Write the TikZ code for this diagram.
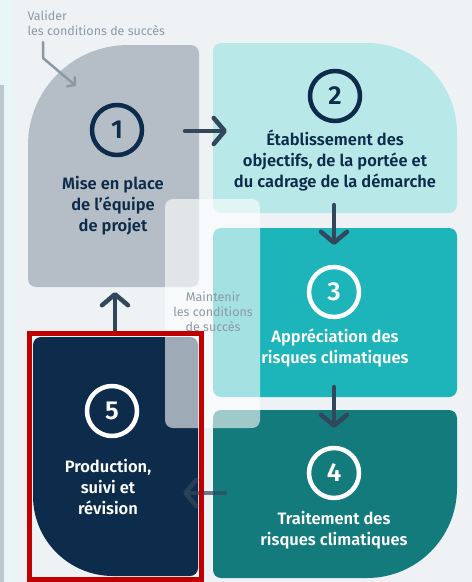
\documentclass[tikz,border=0pt]{standalone}
\usepackage{fontspec}
\setmainfont{Fira Sans}[BoldFont={Fira Sans SemiBold}]
\usepackage{tikz}
\usetikzlibrary{arrows.meta}

\definecolor{bgc}{HTML}{EEF2F5}
\definecolor{stripc}{HTML}{E8F6F8}
\definecolor{barc}{HTML}{B9C7CE}
\definecolor{grisc}{HTML}{B5BEC6}
\definecolor{cyanc}{HTML}{B8E8E8}
\definecolor{tealc}{HTML}{1DB5B9}
\definecolor{petrolc}{HTML}{137B7C}
\definecolor{navyc}{HTML}{0D2B4A}
\definecolor{arrowc}{HTML}{33475C}
\definecolor{labelc}{HTML}{8C99A4}
\definecolor{redc}{HTML}{C00000}

\tikzset{
	stepnum/.style={circle, draw, line width=4.5pt, minimum size=50pt, inner sep=0pt,
		font=\fontsize{26}{26}\selectfont\bfseries},
	steptext/.style={align=center, font=\fontsize{16.5}{21}\selectfont\bfseries},
	flow/.style={line width=4.5pt, arrowc, line cap=round,
		-{Straight Barb[length=11pt, width=26pt, line cap=round, line join=round]}},
	note/.style={labelc, font=\fontsize{12.5}{15}\selectfont}
}

\begin{document}
\begin{tikzpicture}[x=1pt, y=-1pt]
	\useasboundingbox (0,0) rectangle (472,582);
	
	% fond
	\fill[bgc] (0,0) rectangle (472,582);
	\fill[stripc] (0,0) rectangle (14,582);
	\fill[barc] (0,85) rectangle (4,582);
	
	% blocs
	\fill[grisc] (28,279) -- (28,145) arc[start angle=180, end angle=270, radius=100]
		-- (191,45) arc[start angle=270, end angle=360, radius=8]
		-- (199,279) arc[start angle=0, end angle=90, radius=8]
		-- (36,287) arc[start angle=90, end angle=180, radius=8] -- cycle;
	\fill[cyanc] (213,51) arc[start angle=180, end angle=270, radius=8]
		-- (367,43) arc[start angle=270, end angle=360, radius=90]
		-- (457,205) arc[start angle=0, end angle=90, radius=8]
		-- (221,213) arc[start angle=90, end angle=180, radius=8] -- cycle;
	\fill[tealc, rounded corners=8pt] (213,228) rectangle (457,397);
	\fill[petrolc] (213,418) arc[start angle=180, end angle=270, radius=8]
		-- (449,410) arc[start angle=270, end angle=360, radius=8]
		-- (457,488) arc[start angle=0, end angle=90, radius=90]
		-- (221,578) arc[start angle=90, end angle=180, radius=8] -- cycle;
	\fill[navyc] (33,345) arc[start angle=180, end angle=270, radius=8]
		-- (190,337) arc[start angle=270, end angle=360, radius=8]
		-- (198,568) arc[start angle=0, end angle=90, radius=8]
		-- (113,576) arc[start angle=90, end angle=180, radius=80] -- cycle;
	
	% cadre blanc
	\fill[white, opacity=0.6, rounded corners=8pt] (165,199) rectangle (260,428);
	\node[note, align=center] (maintenir) at (213,312) {Maintenir\\les conditions\\de succès};
	
	% etapes
	\node[stepnum, navyc] (n1) at (117,130) {1};
	\node[stepnum, navyc] (n2) at (335,96) {2};
	\node[stepnum, white] (n3) at (334,292) {3};
	\node[stepnum, white] (n4) at (334,473) {4};
	\node[stepnum, white] (n5) at (112,411) {5};
	\node[steptext, navyc] (t1) at (113,206) {Mise en place\\de l’équipe\\de projet};
	\node[steptext, navyc] (t2) at (335,161) {Établissement des\\objectifs, de la portée et\\du cadrage de la démarche};
	\node[steptext, white] (t3) at (335,348) {Appréciation des\\risques climatiques};
	\node[steptext, white] (t4) at (334,530) {Traitement des\\risques climatiques};
	\node[steptext, white] (t5) at (108,487) {Production,\\suivi et\\révision};
	
	% fleches
	\coordinate (a1) at (185,131);
	\coordinate (b1) at (227,131);
	\coordinate (a2) at (334,205);
	\coordinate (b2) at (334,245);
	\coordinate (a3) at (334,387);
	\coordinate (b3) at (334,428);
	\coordinate (a4) at (225,493);
	\coordinate (b4) at (183,493);
	\coordinate (a5) at (115,331);
	\coordinate (b5) at (115,292);
	\draw[flow] (a1) -- (b1);
	\draw[flow] (a2) -- (b2);
	\draw[flow] (a3) -- (b3);
	\draw[flow, opacity=0.7] (a4) -- (b4);
	\draw[flow] (a5) -- (b5);
	
	% valider
	\node[note, align=left, anchor=north west] (valider) at (24,7) {Valider\\les conditions de succès};
	\coordinate (v1) at (43,42);
	\coordinate (v2) at (43,58);
	\coordinate (v3) at (76,86);
	\draw[labelc, line width=2.5pt, line cap=round, -{Straight Barb[length=5pt, width=12pt, line cap=round]}] (v1) -- (v2) -- (v3);
	
	% cadre rouge
	\draw[redc, line width=5pt] (29.5,333.5) rectangle (201.5,579.5);
	
\end{tikzpicture}
\end{document}
